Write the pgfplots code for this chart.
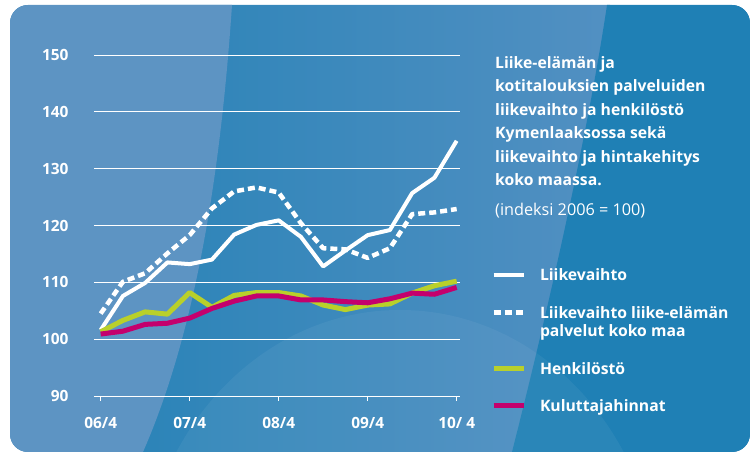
\documentclass[border=0pt]{standalone}
\usepackage{fontspec}
\setmainfont{Open Sans}
\usepackage{pgfplots}
\pgfplotsset{compat=1.18}
\definecolor{panelmid}{HTML}{3F89BC}
\definecolor{panellight}{HTML}{5D94C3}
\definecolor{paneldark}{HTML}{1F80B5}
\definecolor{middark}{HTML}{2C84B8}
\definecolor{midlight}{HTML}{5290C2}
\definecolor{lime}{HTML}{B9D02A}
\definecolor{magenta}{HTML}{C4006D}
\begin{document}
\begin{tikzpicture}[x=1bp,y=1bp]
\useasboundingbox (0,0) rectangle (755,452);
\begin{scope}
\clip[rounded corners=18bp] (10,0) rectangle (750,447);
\fill[panelmid] (10,0) rectangle (750,447);
\shade[left color=middark,right color=midlight] (140,0) rectangle (610,447);
\fill[panellight] (10,0) -- (10,447) -- (232,447) .. controls (222,300) and (200,130) .. (143,0) -- cycle;
\fill[paneldark] (750,0) -- (750,447) -- (607,447) .. controls (585,300) and (540,110) .. (512,0) -- cycle;
\fill[white,opacity=0.05] (400,-148) ellipse [x radius=260, y radius=290];
\end{scope}
\begin{axis}[
  at={(94bp,56bp)}, anchor=south west,
  scale only axis, width=366bp, height=341bp,
  xmin=-0.3, xmax=16.15, ymin=90, ymax=150,
  axis line style={draw=none},
  ymajorgrids, grid style={white, line width=0.9bp},
  xtick={0,4,8,12,16},
  xticklabels={06/4,07/4,08/4,09/4,10/ 4},
  ytick={90,100,110,120,130,140,150},
  xtick pos=bottom, xtick align=outside,
  major tick length=5bp,
  xtick style={white, line width=0.9bp},
  ytick style={draw=none},
  tick label style={font=\bfseries\fontsize{15.5}{18}\selectfont, text=white},
  /pgf/number format/assume math mode=true,
  yticklabel style={xshift=-22bp},
  xticklabel style={yshift=-13bp},
  legend style={at={(axis description cs:1.0847,0.3724)}, anchor=north west,
    draw=none, fill=none, inner sep=0pt, outer sep=0pt,
    nodes={inner sep=0pt, anchor=base west, text=white, align=left, text height=11bp},
    font=\bfseries\fontsize{15.8}{18}\selectfont,
    row sep=26bp,
    /tikz/every odd column/.append style={column sep=14bp}},
  legend cell align=left,
  legend image code/.code={\draw[#1] (0bp,5.5bp) -- (30bp,5.5bp);},
  every axis plot/.append style={line join=round},
]
\addplot[white, line width=4bp] coordinates {
(0,101.6) (1,107.6) (2,109.9) (3,113.5) (4,113.2) (5,114.0) (6,118.4) (7,120.1) (8,120.9)
(9,118.0) (10,112.8) (11,115.6) (12,118.3) (13,119.2) (14,125.7) (15,128.4) (16,134.9)};
\addlegendentry[text depth=4bp]{Liikevaihto}
\addplot[white, line width=4.5bp, dash pattern=on 7bp off 4bp,
  legend image code/.code={\draw[white, line width=4.5bp, dash pattern=on 7bp off 4bp] (0bp,23.5bp) -- (30bp,23.5bp);}] coordinates {
(0,104.5) (1,110.1) (2,111.6) (3,115.1) (4,118.3) (5,123.0) (6,126.0) (7,126.7) (8,125.8)
(9,120.4) (10,116.0) (11,115.8) (12,114.3) (13,116.0) (14,122.0) (15,122.3) (16,122.9)};
\addlegendentry[text height=26bp, text depth=1bp]{Liikevaihto liike-elämän\\palvelut koko maa}
\addplot[lime, line width=5bp] coordinates {
(0,101.3) (1,103.3) (2,104.8) (3,104.4) (4,108.2) (5,105.6) (6,107.7) (7,108.2) (8,108.2)
(9,107.6) (10,106.0) (11,105.2) (12,106.0) (13,106.2) (14,108.1) (15,109.4) (16,110.2)};
\addlegendentry[text depth=0bp]{Henkilöstö}
\addplot[magenta, line width=5bp] coordinates {
(0,100.9) (1,101.4) (2,102.6) (3,102.8) (4,103.7) (5,105.4) (6,106.7) (7,107.6) (8,107.6)
(9,106.9) (10,106.9) (11,106.6) (12,106.4) (13,107.1) (14,108.1) (15,107.9) (16,109.1)};
\addlegendentry[text depth=4bp]{Kuluttajahinnat}
\end{axis}
\node[anchor=base west, align=left, inner sep=0pt, text=white,
  font=\bfseries\fontsize{15.8}{23.6}\selectfont] at (495,266.3)
  {Liike-elämän ja\\kotitalouksien palveluiden\\liikevaihto ja henkilöstö\\Kymenlaaksossa sekä\\liikevaihto ja hintakehitys\\koko maassa.};
\node[anchor=base west, inner sep=0pt, text=white,
  font=\fontsize{16.3}{19}\selectfont] at (495,236.3) {(indeksi 2006 = 100)};
\end{tikzpicture}
\end{document}
